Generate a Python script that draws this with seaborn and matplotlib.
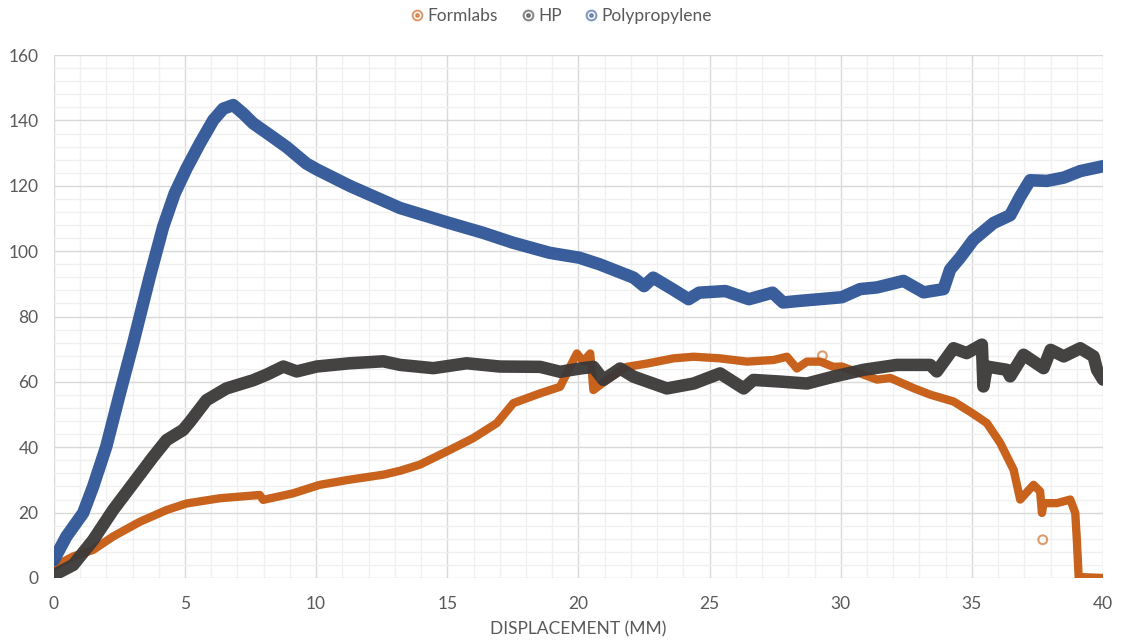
import pandas as pd
import matplotlib
matplotlib.use("Agg")
import matplotlib.pyplot as plt
from matplotlib.lines import Line2D
from matplotlib.ticker import MultipleLocator
import seaborn as sns

# values (displacement mm, load)
formlabs_x = [0, 0.74, 1.5, 2.26, 3.28, 4.3, 5.06, 6.33, 7.85, 7.98, 9.12, 10.14,
              11.29, 12.56, 13.2, 13.96, 15.1, 15.99, 16.89, 17.52, 18.54, 19.3,
              19.68, 19.94, 20.19, 20.45, 20.57, 21.08, 21.84, 22.61, 23.62, 24.39,
              25.4, 26.42, 27.44, 27.95, 28.33, 28.71, 29.22, 29.72, 30.04, 31.38,
              31.89, 32.77, 33.41, 34.3, 35.0, 35.57, 36.08, 36.59, 36.84, 37.35, 37.6,
              37.67, 37.73, 38.24, 38.75, 38.94, 39.0, 39.07, 40.0]
formlabs_y = [3.5, 6.6, 8.6, 12.7, 17.2, 20.8, 22.8, 24.4, 25.4, 23.9, 25.9, 28.5,
              30.1, 31.6, 32.8, 34.7, 39.2, 42.8, 47.4, 53.5, 56.5, 58.5,
              64.6, 68.7, 66.2, 68.7, 57.5, 60.6, 64.6, 65.6, 67.2, 67.7,
              67.2, 66.2, 66.7, 67.7, 64.1, 66.2, 66.2, 64.6, 64.7, 60.7,
              61.2, 58.1, 56.1, 54.0, 50.5, 47.4, 41.3, 33.1, 24.0, 28.5, 26.5,
              19.9, 22.9, 22.9, 24.0, 19.9, 11.7, 0.3, 0.0]
# stray single readings
formlabs_stray_x = [37.7, 29.3]
formlabs_stray_y = [11.7, 68.0]

hp_x = [0, 0.74, 1.5, 2.26, 3.03, 3.79, 4.3, 4.93, 5.19, 5.82, 6.58, 7.6, 8.11, 8.75,
        9.26, 10.02, 11.29, 12.56, 13.2, 14.47, 15.74, 17.0, 18.54, 19.3, 20.07,
        20.57, 20.95, 21.59, 22.1, 23.37, 24.39, 25.4, 26.3, 26.67, 27.69, 28.71,
        29.72, 30.87, 32.14, 33.41, 33.66, 34.3, 34.8, 35.38, 35.44, 35.57, 36.33,
        36.46, 36.97, 37.73, 38.0, 38.5, 39.13, 39.64, 39.77, 40.0]
hp_y = [0.9, 4.0, 11.6, 20.8, 29.0, 37.1, 42.2, 45.3, 47.8, 54.4, 58.0, 60.5, 62.2, 64.7,
        63.2, 64.7, 65.7, 66.3, 65.2, 64.2, 65.7, 64.7, 64.6, 63.1, 64.1,
        64.6, 60.6, 64.1, 61.6, 58.0, 59.5, 62.6, 58.0, 60.6, 60.1, 59.5,
        61.6, 63.7, 65.2, 65.2, 63.2, 70.3, 68.8, 71.4, 58.6, 64.7, 63.7,
        61.7, 68.3, 64.2, 69.8, 67.8, 70.3, 67.8, 63.7, 60.7]

pp_x = [0, 0.48, 1.12, 1.5, 2.0, 2.52, 3.03, 3.66, 4.17, 4.61, 5.06, 5.57, 6.08, 6.46,
        6.84, 7.22, 7.6, 8.24, 8.87, 9.63, 10.03, 11.3, 12.18, 13.2, 15.04, 16.37,
        17.5, 18.9, 20.03, 20.8, 22.1, 22.5, 22.85, 23.6, 24.2, 24.6, 25.6, 26.5,
        27.4, 27.8, 28.45, 30.04, 30.74, 31.38, 32.39, 33.16, 33.92, 34.17, 34.55,
        35.06, 35.82, 36.46, 36.84, 37.22, 37.86, 38.5, 39.13, 40.0]
pp_y = [5.5, 12.7, 19.9, 28.0, 40.2, 56.5, 72.0, 92.2, 107.5, 117.7, 125.3, 133.0,
        140.1, 143.6, 144.7, 142.1, 139.1, 135.5, 131.9, 126.8, 125.0, 119.9, 116.8,
        113.2, 108.7, 105.6, 102.6, 99.5, 98.0, 96.0, 91.9, 89.3, 91.9, 88.3, 85.3,
        87.3, 87.8, 85.3, 87.3, 84.3, 84.8, 85.9, 88.4, 88.9, 90.9, 87.4, 88.4, 94.4,
        98.0, 103.5, 108.6, 111.0, 116.7, 121.7, 121.5, 122.5, 124.5, 126.0]

series_names = ["Formlabs", "HP", "Polypropylene"]
colors = {"Formlabs": "#C55A11", "HP": "#3B3838", "Polypropylene": "#2F5597"}
widths = {"Formlabs": 6.0, "HP": 9.0, "Polypropylene": 9.0}

frames = []
for name, xs, ys in [("Formlabs", formlabs_x, formlabs_y),
                     ("HP", hp_x, hp_y),
                     ("Polypropylene", pp_x, pp_y)]:
    frames.append(pd.DataFrame({"x": xs, "y": ys, "series": name}))
df = pd.concat(frames, ignore_index=True)

sns.set_style("white")
plt.rcParams['font.family'] = ['Lato', 'DejaVu Sans']
text_color = "#595959"

fig = plt.figure(figsize=(11.21, 6.44), dpi=100)
ax = fig.add_axes([0.048, 0.1025, 0.936, 0.812])

for name in series_names:
    sub = df[df["series"] == name]
    sns.lineplot(data=sub, x="x", y="y", color=colors[name], linewidth=widths[name],
                 sort=False, estimator=None, ax=ax, legend=False,
                 solid_capstyle="round", solid_joinstyle="round", alpha=0.95)
    if name == "Formlabs":
        sns.scatterplot(x=formlabs_stray_x, y=formlabs_stray_y, ax=ax, s=40,
                        facecolor="none", edgecolor=colors[name], linewidth=1.5,
                        alpha=0.6, legend=False)

ax.set_xlim(0, 40)
ax.set_ylim(0, 160)
ax.xaxis.set_major_locator(MultipleLocator(5))
ax.xaxis.set_minor_locator(MultipleLocator(1))
ax.yaxis.set_major_locator(MultipleLocator(20))
ax.yaxis.set_minor_locator(MultipleLocator(4))
ax.grid(which="major", color="#D9D9D9", linewidth=1.0)
ax.grid(which="minor", color="#F0F0F0", linewidth=1.0)
ax.set_axisbelow(True)
for s in ax.spines.values():
    s.set_visible(False)
ax.tick_params(which="both", length=0, labelsize=12.5, colors=text_color)
ax.tick_params(axis="x", pad=13)
ax.tick_params(axis="y", pad=11)
ax.set_xlabel("DISPLACEMENT (MM)", fontsize=12.5, color=text_color, labelpad=7)
ax.set_ylabel("")

handles = []
for n in series_names:
    ring = Line2D([], [], linestyle="none", marker="o", markersize=7,
                  markerfacecolor="none", markeredgecolor=colors[n],
                  markeredgewidth=1.5, alpha=0.6)
    dot = Line2D([], [], linestyle="none", marker="o", markersize=2.5,
                 markerfacecolor=colors[n], markeredgecolor=colors[n], alpha=0.6)
    handles.append((ring, dot))
fig.legend(handles, series_names, loc="upper center", bbox_to_anchor=(0.5, 1.012),
           ncol=3, frameon=False, fontsize=12.5, labelcolor=text_color,
           handletextpad=0.1, columnspacing=1.2, handlelength=1.0)

fig.savefig("out.png", dpi=100)
